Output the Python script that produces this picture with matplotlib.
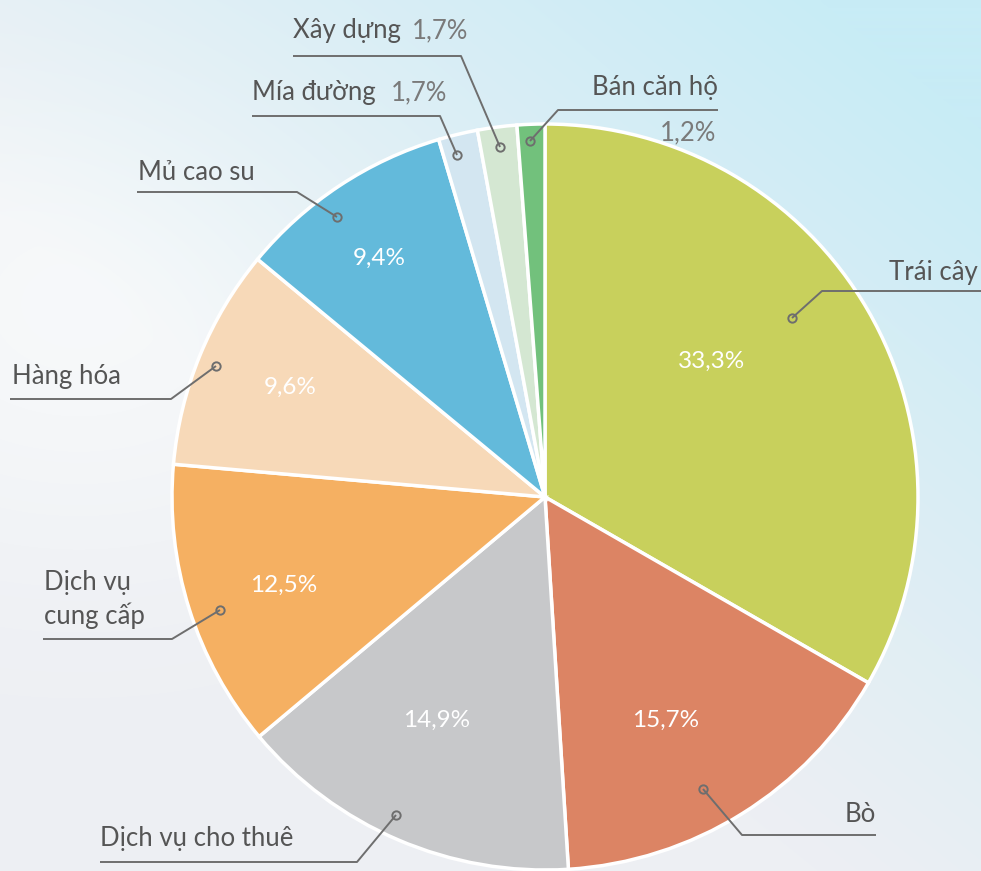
import numpy as np
import matplotlib
matplotlib.use("Agg")
import matplotlib.pyplot as plt

# ── Dữ liệu ────────────────────────────────────────────────────────────────
labels = ["Trái cây", "Bò", "Dịch vụ cho thuê", "Dịch vụ\ncung cấp", "Hàng hóa",
          "Mủ cao su", "Mía đường", "Xây dựng", "Bán căn hộ"]
shares = [33.3, 15.7, 14.9, 12.5, 9.6, 9.4, 1.7, 1.7, 1.2]
colors = ["#C8D05C", "#DC8464", "#C7C8CA", "#F5B062", "#F7D9B8",
          "#63BADB", "#D3E6F1", "#D4E7D2", "#72C17C"]

W, H = 981, 871
FONT = ["Lato", "Open Sans", "DejaVu Sans"]
TXT = "#555555"
SUBT = "#7A7A7A"
LINE = "#6E6E6E"
FS = 18.5

def px(x, y):
    return (x, H - y)

fig = plt.figure(figsize=(W / 100, H / 100), dpi=100)

# nền trời
bg = fig.add_axes([0, 0, 1, 1])
xx = np.mgrid[0:H, 0:W][1] / W
yy = np.mgrid[0:H, 0:W][0] / H
base = np.array([237, 239, 243]) / 255
cyan = np.array([200, 236, 246]) / 255
white = np.array([249, 251, 252]) / 255
w_c = np.clip((xx * 0.9 - yy * 1.0 + 0.25), 0, 1) ** 1.1
w_w = np.exp(-(((xx - 0.08) / 0.35) ** 2 + ((yy - 0.35) / 0.3) ** 2))
img = base[None, None, :] * np.ones((H, W, 1))
img = img * (1 - w_w[..., None] * 0.8) + white * (w_w[..., None] * 0.8)
img = img * (1 - w_c[..., None]) + cyan * w_c[..., None]
bg.imshow(img, extent=[0, W, 0, H], aspect="auto", zorder=0)
bg.set_axis_off()

ax = fig.add_axes([0, 0, 1, 1])
ax.set_facecolor("none")
cx, cy = px(545, 497)
R = 373
wedges, _ = ax.pie(shares, colors=colors, startangle=90, counterclock=False,
                   center=(cx, cy), radius=R, frame=True,
                   wedgeprops={"edgecolor": "white", "linewidth": 2.5})
ax.set_xlim(0, W)
ax.set_ylim(0, H)
ax.set_aspect("equal")
ax.set_axis_off()

# phần trăm bên trong (bán kính tương đối, lệch góc)
inner_r = [0.575, 0.68, 0.665, 0.74, 0.745, 0.78]
inner_da = [9.2, -3.4, -2.8, 1.1, -1.0, 1.3]
for w, s, r, da in zip(wedges, shares, inner_r, inner_da):
    mid = np.deg2rad((w.theta1 + w.theta2) / 2 + da)
    ax.text(cx + r * R * np.cos(mid), cy + r * R * np.sin(mid),
            f"{s:.1f}%".replace(".", ","), ha="center", va="center",
            color="white", fontsize=17.5, family=FONT)

# đường dẫn nhãn: điểm tròn, khuỷu, đoạn ngang
leaders = [
    ((792, 318), (822, 291), (981, 291)),
    ((703, 789), (742, 835), (876, 835)),
    ((396, 815), (357, 862), (100, 862)),
    ((220, 610), (172, 639), (43, 639)),
    ((216, 366), (171, 399), (10, 399)),
    ((337, 217), (297, 192), (137, 192)),
    ((457, 155), (440, 116), (252, 116)),
    ((500, 147), (461, 56), (293, 56)),
    ((530, 141), (558, 110), (718, 110)),
]
for dot, elbow, end in leaders:
    pts = [px(*dot), px(*elbow), px(*end)]
    ax.plot([p[0] for p in pts], [p[1] for p in pts], color=LINE, lw=1.4,
            solid_capstyle="butt", zorder=5)
    ax.plot(*px(*dot), marker="o", ms=6, mfc="none", mec=LINE, mew=1.4, zorder=6)

kw = dict(color=TXT, fontsize=FS, family=FONT, va="baseline")
sw = dict(color=SUBT, fontsize=FS, family=FONT, va="baseline")
ax.text(*px(978, 280), labels[0], ha="right", **kw)
ax.text(*px(876, 822), labels[1], ha="right", **kw)
ax.text(*px(100, 846), labels[2], ha="left", **kw)
ax.text(*px(44, 590), "Dịch vụ", ha="left", **kw)
ax.text(*px(44, 624), "cung cấp", ha="left", **kw)
ax.text(*px(12, 384), labels[4], ha="left", **kw)
ax.text(*px(138, 180), labels[5], ha="left", **kw)
ax.text(*px(252, 100), labels[6], ha="left", **kw)
ax.text(*px(391, 100), "1,7%", ha="left", **sw)
ax.text(*px(293, 38), labels[7], ha="left", **kw)
ax.text(*px(412, 38), "1,7%", ha="left", **sw)
ax.text(*px(718, 95), labels[8], ha="right", **kw)
ax.text(*px(716, 140), "1,2%", ha="right", **sw)

fig.savefig("out.png", dpi=100)
